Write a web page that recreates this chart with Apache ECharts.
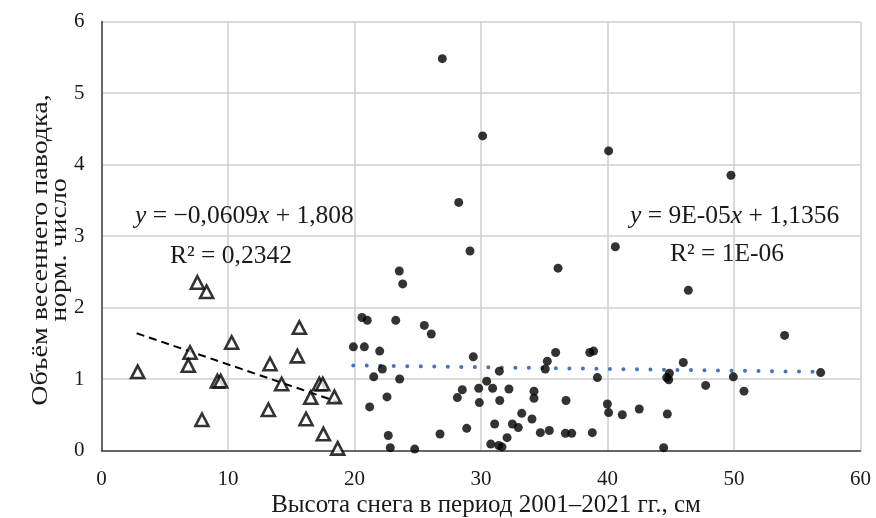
<!DOCTYPE html>
<html>
<head>
<meta charset="utf-8">
<script src="https://cdn.jsdelivr.net/npm/echarts@6/dist/echarts.min.js"></script>
<style>
  html, body { margin: 0; padding: 0; background: #fff; }
  #chart { width: 876px; height: 518px; }
</style>
</head>
<body>
<div id="chart"></div>
<script>
// треугольники (высота снега < 20 см)
const triX = [2.86, 7.58, 8.31, 7.0, 6.86, 7.94, 9.16, 9.42, 10.29, 13.32, 13.19, 14.24, 15.64, 15.48, 16.17, 16.54, 17.22, 17.49, 17.54, 18.41, 18.67]
const triY = [1.10, 2.35, 2.22, 1.37, 1.19, 0.43, 0.97, 0.97, 1.51, 1.21, 0.57, 0.93, 1.72, 1.32, 0.44, 0.74, 0.93, 0.93, 0.23, 0.75, 0.03]

// точки (высота снега > 20 см)
const dotX = [26.94, 30.13, 40.09, 28.24, 29.13, 23.54, 23.81, 36.09, 40.62, 49.76, 46.39, 20.59, 21.01, 23.26, 25.52, 26.07, 19.91, 20.78, 21.99, 22.2,
  29.39, 21.52, 23.57, 30.45, 31.45, 35.9, 35.24, 35.08, 38.6, 38.9, 39.2, 22.57, 21.2, 28.52, 28.13, 29.82, 29.87, 30.92, 32.21, 31.48,
  34.19, 34.19, 36.72, 33.22, 34.03, 32.48, 32.95, 31.08, 28.87, 26.76, 22.67, 22.83, 24.76, 30.77, 31.4, 31.66, 32.06, 34.69, 35.4, 36.67,
  37.17, 38.8, 39.99, 40.09, 41.17, 42.51, 44.44, 44.73, 44.68, 44.89, 44.84, 45.99, 47.76, 49.95, 50.79, 54.0, 56.85]
const dotY = [5.48, 4.40, 4.19, 3.47, 2.79, 2.51, 2.33, 2.55, 2.85, 3.85, 2.24, 1.86, 1.82, 1.82, 1.75, 1.63, 1.45, 1.45, 1.39, 1.14,
  1.31, 1.03, 1.00, 0.97, 1.11, 1.37, 1.25, 1.14, 1.37, 1.39, 1.02, 0.75, 0.61, 0.85, 0.74, 0.87, 0.67, 0.87, 0.86, 0.70,
  0.83, 0.73, 0.70, 0.52, 0.44, 0.37, 0.32, 0.37, 0.31, 0.23, 0.21, 0.04, 0.02, 0.09, 0.07, 0.05, 0.18, 0.25, 0.28, 0.24,
  0.24, 0.25, 0.65, 0.53, 0.50, 0.58, 0.04, 0.51, 1.02, 1.08, 0.99, 1.23, 0.91, 1.03, 0.83, 1.61, 1.09]

// линии тренда (концы, как на рисунке)
const trendLeftX = [2.78, 18.85]
const trendLeftY = [1.64, 0.67]
const trendRightX = [19.9, 56.6]
const trendRightY = [1.19, 1.10]

const xTicks = [0, 10, 20, 30, 40, 50, 60]
const yTicks = [0, 1, 2, 3, 4, 5, 6]

const zip = (xs, ys) => xs.map((x, i) => [x, ys[i]])
const FONT = "'Liberation Serif', 'Times New Roman', serif"
const INK = '#1a1a1a'

const chart = echarts.init(document.getElementById('chart'))

const option = {
  animation: false,
  backgroundColor: '#fff',
  textStyle: { fontFamily: FONT },
  grid: { left: 101.5, right: 15.5, top: 21.5, bottom: 67.5, containLabel: false },
  xAxis: {
    type: 'value',
    min: xTicks[0],
    max: xTicks[xTicks.length - 1],
    interval: 10,
    axisLine: { show: true, onZero: false, lineStyle: { color: '#404040', width: 1.5 } },
    axisTick: { show: false },
    axisLabel: { color: INK, fontSize: 21, fontFamily: FONT, margin: 18 },
    splitLine: { show: true, lineStyle: { color: '#cfcfcf', width: 1.5 } }
  },
  yAxis: {
    type: 'value',
    min: yTicks[0],
    max: yTicks[yTicks.length - 1],
    interval: 1,
    axisLine: { show: true, onZero: false, lineStyle: { color: '#404040', width: 1.5 } },
    axisTick: { show: false },
    axisLabel: { color: INK, fontSize: 21, fontFamily: FONT, margin: 17 },
    splitLine: { show: true, lineStyle: { color: '#cfcfcf', width: 1.5 } }
  },
  series: [
    {
      type: 'line',
      data: zip(trendLeftX, trendLeftY),
      symbol: 'none',
      lineStyle: { color: '#000', width: 2, type: [8, 5] },
      z: 2
    },
    {
      type: 'line',
      data: zip(trendRightX, trendRightY),
      symbol: 'none',
      lineStyle: { color: '#4472C4', width: 4, type: [0.01, 13.5], cap: 'round' },
      z: 2
    },
    {
      type: 'scatter',
      data: zip(triX, triY),
      symbol: 'triangle',
      symbolSize: [13, 12.5],
      itemStyle: { color: '#fff', borderColor: '#000', borderWidth: 2.6 },
      z: 3
    },
    {
      type: 'scatter',
      data: zip(dotX, dotY),
      symbol: 'circle',
      symbolSize: 9,
      itemStyle: { color: '#000' },
      z: 4
    }
  ],
  graphic: [
    {
      type: 'text', x: 135, y: 216, z: 10,
      style: {
        text: '{i|y} = −0,0609{i|x} + 1,808',
        font: '25.5px ' + FONT, fill: INK, verticalAlign: 'middle',
        rich: { i: { fontStyle: 'italic', fontSize: 25.5, fontFamily: FONT } }
      }
    },
    {
      type: 'text', x: 170, y: 256, z: 10,
      style: { text: 'R² = 0,2342', font: '25.5px ' + FONT, fill: INK, verticalAlign: 'middle' }
    },
    {
      type: 'text', x: 630, y: 216, z: 10,
      style: {
        text: '{i|y} = 9E-05{i|x} + 1,1356',
        font: '25.5px ' + FONT, fill: INK, verticalAlign: 'middle',
        rich: { i: { fontStyle: 'italic', fontSize: 25.5, fontFamily: FONT } }
      }
    },
    {
      type: 'text', x: 670, y: 254, z: 10,
      style: { text: 'R² = 1E-06', font: '25.5px ' + FONT, fill: INK, verticalAlign: 'middle' }
    },
    {
      type: 'text', x: 486, y: 505, z: 10,
      style: {
        text: 'Высота снега в период 2001–2021 гг., см',
        font: '25px ' + FONT, fill: INK, align: 'center', verticalAlign: 'middle'
      }
    },
    {
      // подпись оси Y, немного сжата поперёк строки, как на исходнике
      type: 'text', x: 51, y: 250, rotation: Math.PI / 2, scaleY: 0.8, z: 10,
      style: {
        text: 'Объём весеннего паводка,\nнорм. число',
        font: '28px ' + FONT, fill: INK, align: 'center', verticalAlign: 'middle',
        lineHeight: 24
      }
    }
  ]
}

chart.setOption(option)
</script>
</body>
</html>
